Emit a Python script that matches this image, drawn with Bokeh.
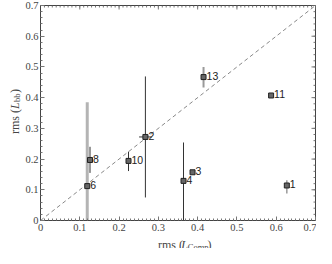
import math
from bokeh.plotting import figure
from bokeh.layouts import row, column
from bokeh.models import Range1d, FixedTicker, Label, ColumnDataSource
from bokeh.core.properties import value
from bokeh.embed import file_html
from bokeh.resources import INLINE

# ---- data ----
ids = ["1", "2", "3", "4", "6", "8", "10", "11", "13"]
rms_comp = [0.627, 0.267, 0.387, 0.364, 0.119, 0.126, 0.224, 0.587, 0.415]
rms_bb = [0.114, 0.272, 0.157, 0.129, 0.112, 0.197, 0.194, 0.407, 0.467]
rms_bb_lo = [0.088, 0.075, 0.151, 0.0, 0.0, 0.155, 0.161, 0.400, 0.433]
rms_bb_hi = [0.131, 0.469, 0.163, 0.254, 0.385, 0.240, 0.224, 0.414, 0.500]
rms_comp_lo = [0.622, 0.251, 0.382, 0.359, 0.115, 0.122, 0.220, 0.582, 0.411]
rms_comp_hi = [0.632, 0.283, 0.392, 0.369, 0.123, 0.130, 0.228, 0.592, 0.419]
tick_values = [0, 0.1, 0.2, 0.3, 0.4, 0.5, 0.6, 0.7]
tick_labels = ["0", "0.1", "0.2", "0.3", "0.4", "0.5", "0.6", "0.7"]
x_minor = [i / 100 for i in range(0, 71)]
y_minor = [i / 50 for i in range(0, 36)]
axis_max = 0.7
x_title = [("rms (", "normal"), ("L", "italic"), ("Comp", "sub"), (")", "normal")]
y_title = [("rms (", "normal"), ("L", "italic"), ("bb", "sub"), (")", "normal")]

# style per point (error bar appearance)
bar_color = {"1": "#9a9a9a", "6": "#b4b4b4", "13": "#9a9a9a", "11": "#777777"}
bar_width = {"6": 3, "13": 2, "1": 1.5}

src = ColumnDataSource(dict(
    x=rms_comp, y=rms_bb, ylo=rms_bb_lo, yhi=rms_bb_hi,
    xlo=rms_comp_lo, xhi=rms_comp_hi, label=ids,
    col=[bar_color.get(i, "#333333") for i in ids],
    lw=[bar_width.get(i, 1) for i in ids],
))

TOTAL_W, TOTAL_H = 316, 248
YT_W = 22          # width of the y-title strip
XT_H = 15          # height of the x-title strip
MW, MH = TOTAL_W - YT_W, TOTAL_H - XT_H
ML = 12            # main plot left border

p = figure(width=MW, height=MH, output_backend="svg", toolbar_location=None,
           x_range=Range1d(0, axis_max), y_range=Range1d(0, axis_max),
           min_border_left=ML, min_border_right=1, min_border_top=5, min_border_bottom=10)
p.background_fill_color = "white"
p.border_fill_color = "white"
p.grid.visible = False
p.outline_line_color = "#444444"

serif = "Liberation Serif"
for ax, minor, so in ((p.xaxis[0], x_minor, 3), (p.yaxis[0], y_minor, 2)):
    ax.ticker = FixedTicker(ticks=tick_values, minor_ticks=minor)
    ax.major_label_overrides = {v: t for v, t in zip(tick_values, tick_labels)}
    ax.major_label_text_font = serif
    ax.major_label_text_font_size = "10.5px"
    ax.major_label_text_color = "#444444"
    ax.axis_line_color = "#444444"
    ax.major_tick_in = 4
    ax.major_tick_out = 0
    ax.minor_tick_in = 2
    ax.minor_tick_out = 0
    ax.major_tick_line_color = "#777777"
    ax.minor_tick_line_color = "#777777"
    ax.major_label_standoff = so

# mirrored ticks on top and right edges
tick_col = "#777777"
p.ray(x=x_minor, y=[axis_max] * len(x_minor), length=2, length_units="screen",
      angle=-math.pi / 2, line_color=tick_col, line_width=1)
p.ray(x=tick_values, y=[axis_max] * len(tick_values), length=4, length_units="screen",
      angle=-math.pi / 2, line_color=tick_col, line_width=1)
p.ray(x=[axis_max] * len(y_minor), y=y_minor, length=2, length_units="screen",
      angle=math.pi, line_color=tick_col, line_width=1)
p.ray(x=[axis_max] * len(tick_values), y=tick_values, length=4, length_units="screen",
      angle=math.pi, line_color=tick_col, line_width=1)

# diagonal
p.line([0, axis_max], [0, axis_max], line_color="#888888", line_dash="4 3", line_width=1)

# error bars
p.segment(x0="x", y0="ylo", x1="x", y1="yhi", source=src, line_color="col", line_width="lw")
p.segment(x0="xlo", y0="y", x1="xhi", y1="y", source=src, line_color="col", line_width=1)

# markers
p.scatter(x="x", y="y", source=src, marker="square", size=5,
          fill_color="#666666", line_color="#222222", line_width=1)

# point labels
p.text(x="x", y="y", text="label", source=src, x_offset=3, y_offset=3,
       text_baseline="bottom", text_align="left", text_font=value("Liberation Sans"),
       text_font_size="10.5px", text_color="#222222")


def strip(w, h):
    f = figure(width=w, height=h, output_backend="svg", toolbar_location=None,
               x_range=Range1d(0, w), y_range=Range1d(h, 0),
               x_axis_location=None, y_axis_location=None,
               min_border=0, min_border_left=0, min_border_right=0,
               min_border_top=0, min_border_bottom=0)
    f.outline_line_color = None
    f.grid.visible = False
    f.background_fill_color = "white"
    f.border_fill_color = "white"
    return f


tcol = "#444444"
MAIN_FS, SUB_FS = "12px", "8.5px"
# advance (px) of each piece along the reading direction
adv_x = [25, 7, 21, 4]
adv_y = [25, 7, 9, 4]

# x title strip (below main plot)
xt = strip(MW, XT_H)
frame_cx = ML + 3 + (MW - ML - 3 - 1) / 2
cur = frame_cx - sum(adv_x) / 2
for (t, kind), a in zip(x_title, adv_x):
    xt.add_layout(Label(x=cur, y=11 + (2 if kind == "sub" else 0), text=t,
                        text_font=serif, text_font_style="italic" if kind == "italic" else "normal",
                        text_font_size=SUB_FS if kind == "sub" else MAIN_FS,
                        text_color=tcol, text_baseline="alphabetic", text_align="left"))
    cur += a

# y title strip (left of main plot)
yt = strip(YT_W, TOTAL_H)
frame_cy = 5 + (MH - 5 - 16) / 2
cur = frame_cy + sum(adv_y) / 2
for (t, kind), a in zip(y_title, adv_y):
    yt.add_layout(Label(x=14 + (2 if kind == "sub" else 0), y=cur, angle=math.pi / 2, text=t,
                        text_font=serif, text_font_style="italic" if kind == "italic" else "normal",
                        text_font_size=SUB_FS if kind == "sub" else MAIN_FS,
                        text_color=tcol, text_baseline="alphabetic", text_align="left"))
    cur -= a

layout = row(yt, column(p, xt, spacing=0), spacing=0)
open("out.html", "w").write(file_html(layout, INLINE))
